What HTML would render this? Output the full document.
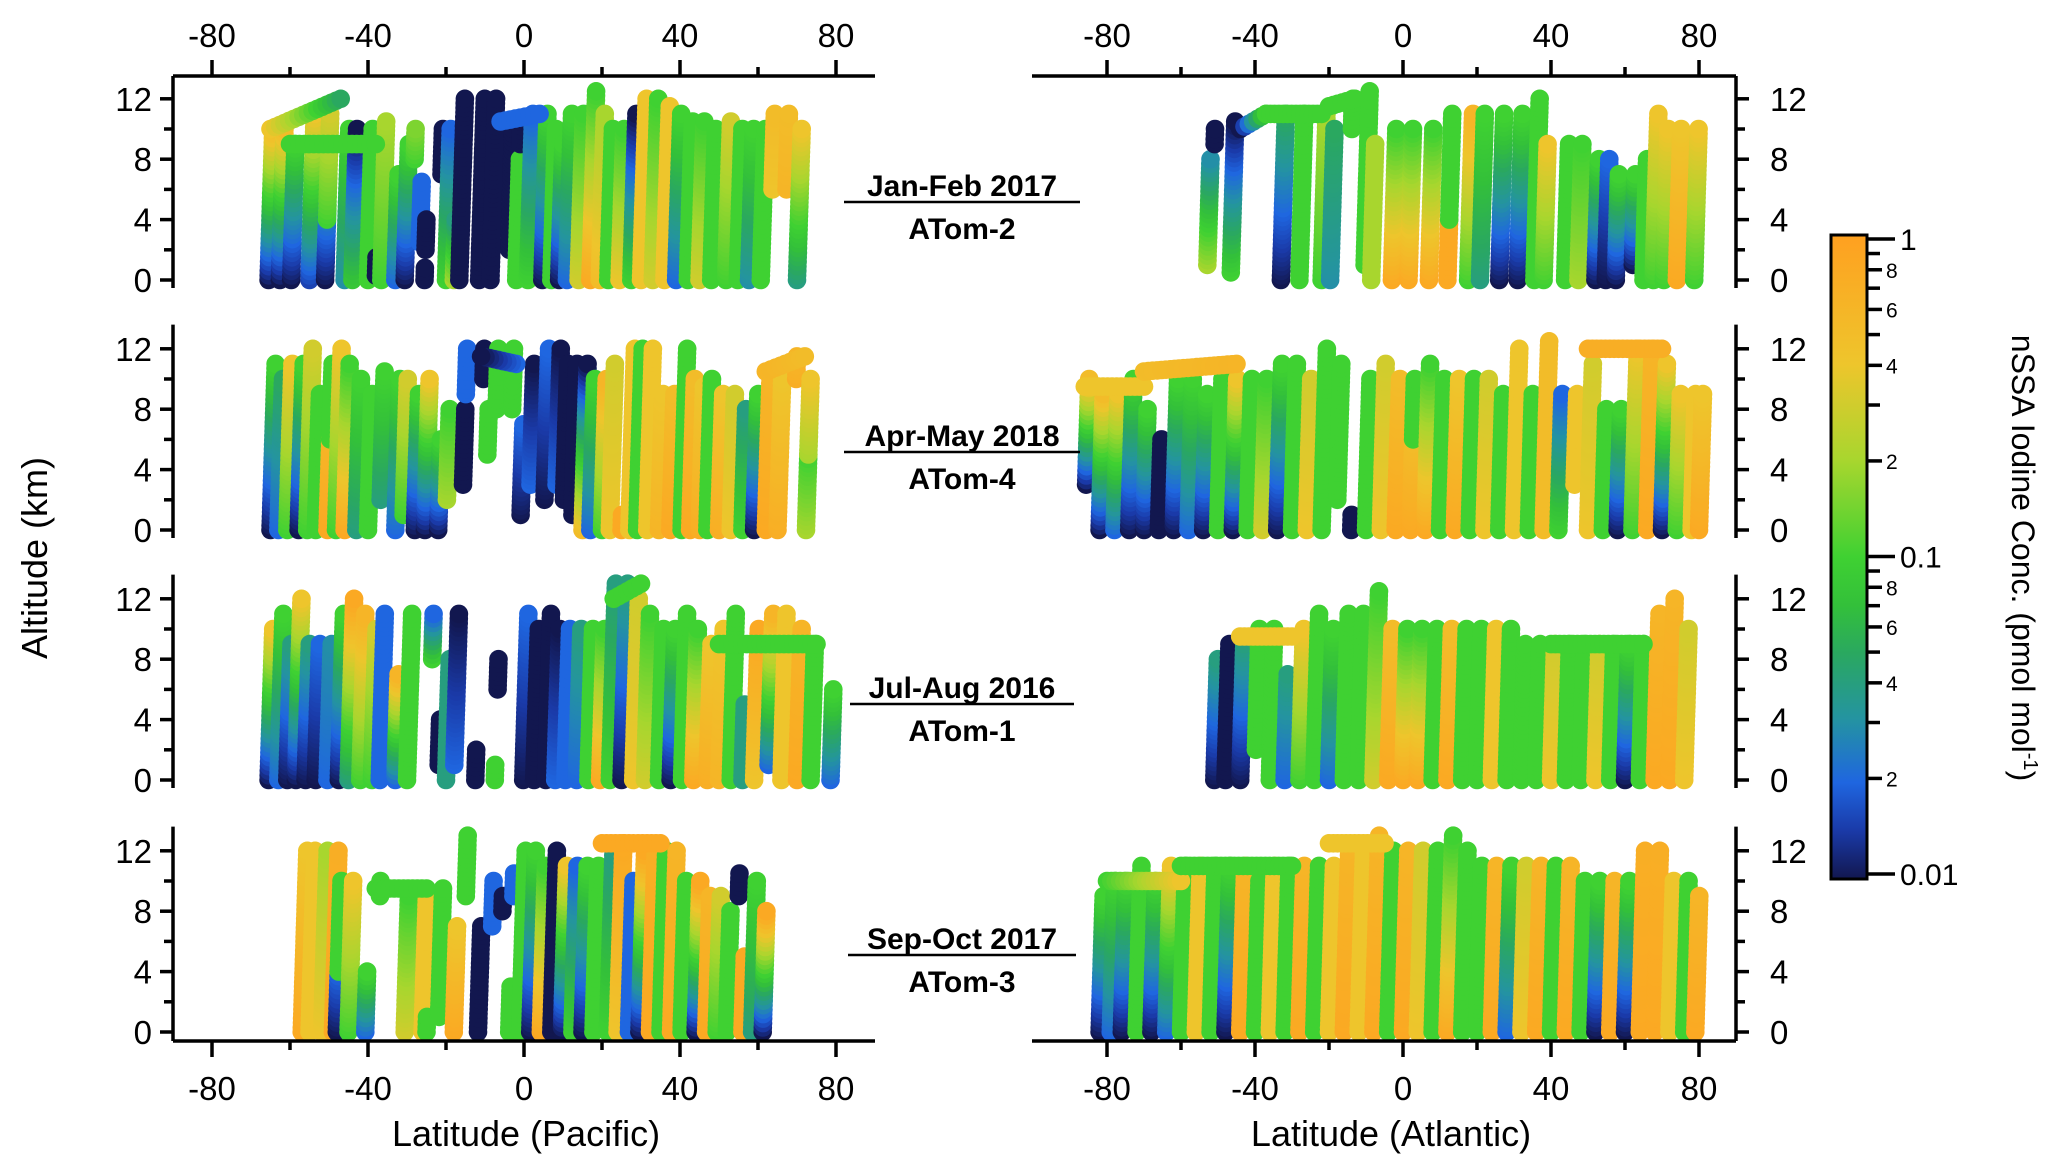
<!DOCTYPE html>
<html><head><meta charset="utf-8">
<style>
html,body{margin:0;padding:0;background:#fff;}
svg{display:block;font-family:"Liberation Sans",Arial,sans-serif;}
</style></head>
<body>
<svg id="chart" width="2067" height="1173" viewBox="0 0 2067 1173" xmlns="http://www.w3.org/2000/svg">
<defs>
<linearGradient id="cbar" x1="0" y1="1" x2="0" y2="0">
<stop offset="0" stop-color="#12174f"/>
<stop offset="0.075" stop-color="#1a3aa8"/>
<stop offset="0.15" stop-color="#1f66e0"/>
<stop offset="0.25" stop-color="#2494a0"/>
<stop offset="0.35" stop-color="#2aa860"/>
<stop offset="0.425" stop-color="#33c03a"/>
<stop offset="0.5" stop-color="#3fd132"/>
<stop offset="0.65" stop-color="#a8d62e"/>
<stop offset="0.8" stop-color="#eec52c"/>
<stop offset="1" stop-color="#ffa020"/>
</linearGradient>
</defs>
<g id="dots"></g>
<g id="axes"></g>

<g font-weight="bold" font-size="30" text-anchor="middle" fill="#000">
<text x="962" y="196">Jan-Feb 2017</text>
<line x1="844" x2="1080" y1="202" y2="202" stroke="#000" stroke-width="2.5"/>
<text x="962" y="239">ATom-2</text>
<text x="962" y="446">Apr-May 2018</text>
<line x1="844" x2="1080" y1="452" y2="452" stroke="#000" stroke-width="2.5"/>
<text x="962" y="489">ATom-4</text>
<text x="962" y="698">Jul-Aug 2016</text>
<line x1="850" x2="1074" y1="704" y2="704" stroke="#000" stroke-width="2.5"/>
<text x="962" y="741">ATom-1</text>
<text x="962" y="949">Sep-Oct 2017</text>
<line x1="848" x2="1076" y1="955" y2="955" stroke="#000" stroke-width="2.5"/>
<text x="962" y="992">ATom-3</text>
</g>

<text x="526" y="1146" font-size="36" text-anchor="middle">Latitude (Pacific)</text>
<text x="1391" y="1146" font-size="36" text-anchor="middle">Latitude (Atlantic)</text>
<text transform="translate(47,558) rotate(-90)" font-size="36" text-anchor="middle">Altitude (km)</text>

<g>
<rect x="1831" y="235" width="36" height="644" fill="url(#cbar)" stroke="#000" stroke-width="3"/>
<g id="cbticks"></g>
<text transform="translate(2012,558) rotate(90)" font-size="32" text-anchor="middle">nSSA Iodine Conc. (pmol mol<tspan dy="-12" font-size="20">-1</tspan><tspan dy="12">)</tspan></text>
</g>
</svg>
<script>
// ---- data: profiles [lat, altBottom, altTop, concBottom, concTop]; legs [lat0, lat1, alt0, alt1, conc0, conc1]
const pacJanFeb = [[-65.5,0,10,0.01,0.5],[-62.6,0,10,0.01,0.5],[-59.7,0,9,0.01,0.1],[-55,0,11,0.015,0.4],[-51,0,5,0.01,0.03],[-51,4,11,0.1,0.3],[-46,0,10,0.03,0.1],[-44,0,10,0.08,0.01],[-40,0,10,0.1,0.1],[-38,0.3,1.5,0.01,0.01],[-36.6,0,10.5,0.1,0.2],[-33,0,7,0.02,0.1],[-30.6,0,9,0.01,0.1],[-29,8,10,0.1,0.15],[-27,2.5,6.5,0.02,0.02],[-25.5,0,0.8,0.01,0.01],[-25.5,2,4,0.01,0.01],[-22,7,10,0.01,0.01],[-20,0,10,0.1,0.02],[-18,0,4,0.2,0.04],[-16.6,0,12,0.01,0.01],[-11.5,0,12,0.01,0.01],[-8.6,0,12,0.01,0.01],[-4,2,10,0.01,0.01],[-2,0,8,0.1,0.1],[-2,9,10.5,0.01,0.01],[1,0,11,0.1,0.02],[4.7,0,11,0.01,0.1],[7,0,10,0.1,0.1],[9,0,9,0.01,0.1],[11,0,11,0.02,0.1],[14,0,11,0.3,0.1],[17,0,12.5,0.8,0.1],[19.4,0,11,0.5,0.2],[21.6,0,10,0.1,0.1],[24.5,0,10,0.4,0.1],[27.5,0,11,0.1,0.01],[30,0,12,0.4,0.4],[33,0,12,0.3,0.1],[36,0,11.5,0.4,0.4],[39,0,11,0.02,0.1],[42,0,10.5,0.1,0.1],[45,0,10.5,0.3,0.1],[48,0,10,0.1,0.1],[51.8,0,10.5,0.1,0.3],[54.8,0,10,0.1,0.1],[57.7,0,10,0.03,0.1],[60.7,0,10,0.1,0.1],[63,6,11,0.4,0.5],[66.6,6,11,0.6,0.5],[70,0,10,0.04,0.4]];
const pacJanFebLegs = [[-65,-47,10,12,0.4,0.05],[-60,-38,9,9,0.1,0.1],[-6,4,10.5,11,0.02,0.02]];
const atlJanFeb = [[-53,1,8,0.2,0.03],[-52,9,10,0.01,0.01],[-46.6,0.5,10.5,0.1,0.01],[-33,0,11,0.01,0.05],[-28,0,11,0.1,0.1],[-22,0,11,0.1,0.2],[-19.7,0,10,0.03,0.05],[-15,10,12,0.1,0.1],[-10.5,1,12.5,0.1,0.1],[-8.6,0,9,0.2,0.2],[-3,0,10,0.8,0.1],[1.5,0,10,0.8,0.1],[7,0,10,0.8,0.1],[12,0,4,0.8,0.8],[12,4,11,0.1,0.1],[17.6,0,11,0.1,0.6],[20.8,0,11,0.04,0.1],[26,0,11,0.01,0.1],[31,0,11,0.01,0.1],[35.5,0,12,0.1,0.1],[38,0,9,0.1,0.4],[43.8,0,9,0.1,0.1],[47.4,0,9,0.2,0.1],[52,0,8,0.01,0.1],[54.8,0,8,0.01,0.02],[57.5,0,7,0.01,0.1],[62,1,7,0.01,0.1],[65,0,8,0.1,0.1],[67.7,0,11,0.1,0.4],[70.5,0,10,0.1,0.4],[74,0,10,0.8,0.4],[78.7,0,10,0.1,0.4]];
const atlJanFebLegs = [[-44,-37,10,11,0.01,0.1],[-37,-22,11,11,0.1,0.1],[-20,-13,11.5,12,0.1,0.1]];
const pacAprMay = [[-65,0,11,0.01,0.1],[-63,0,10,0.02,0.05],[-60.7,0,11,0.1,0.4],[-57.8,0,11,0.01,0.1],[-55.6,0,12,0.1,0.3],[-53.4,0,9,0.1,0.1],[-50.4,0,6,0.8,0.6],[-50.4,6,11,0.1,0.1],[-48.2,0,12,0.1,0.4],[-46,0,11,0.8,0.1],[-43,0,10,0.04,0.1],[-40,0,9,0.1,0.1],[-37,2,10.5,0.04,0.1],[-33,0,10,0.02,0.1],[-31,1,10,0.1,0.3],[-28,0,9,0.01,0.1],[-25.4,0,10,0.01,0.4],[-22,0,6,0.01,0.1],[-20,2,8,0.2,0.1],[-16,3,8,0.01,0.01],[-16,9,12,0.02,0.02],[-11.6,10,12,0.01,0.01],[-10,5,8,0.1,0.1],[-8,8,12,0.1,0.1],[-4,8,12,0.1,0.1],[-1,1,7,0.01,0.02],[1.3,3,11,0.02,0.01],[5,2,12,0.01,0.02],[8,3,12,0.02,0.01],[10,2,11,0.01,0.01],[12.3,1,11,0.01,0.01],[15,0,11,0.5,0.01],[17,0,10,0.02,0.1],[20,0,10,0.1,0.6],[22,0,11,0.4,0.3],[25,0,1,0.8,0.8],[27,0,12,0.4,0.4],[29,0,12,0.1,0.1],[31.6,0,12,0.4,0.4],[34.6,0,9,0.6,0.4],[37.5,0,9,0.8,0.5],[40.4,0,12,0.1,0.1],[42.6,0,10,0.8,0.5],[45,0,9.5,0.7,0.4],[47,0,10,0.1,0.1],[50,0,9,0.7,0.4],[53,0,9,0.4,0.3],[56,0,8,0.1,0.04],[59,0,9,0.01,0.1],[62,0,10,0.8,0.6],[65,0,10,0.7,0.4],[68.6,10,11.5,0.7,0.6],[72.3,0,5,0.2,0.1],[72.3,5,10,0.2,0.4]];
const pacAprMayLegs = [[62,72,10.5,11.5,0.6,0.5],[-2,-11,11,11.5,0.02,0.01]];
const atlAprMay = [[-86,3,10,0.01,0.5],[-82,0,9,0.01,0.5],[-78,0,9,0.02,0.4],[-74,0,10,0.01,0.1],[-70,0,8,0.01,0.1],[-66,0,6,0.01,0.01],[-62,0,10,0.01,0.1],[-58,0,10,0.02,0.1],[-54,0,9,0.01,0.1],[-50,0,10,0.1,0.1],[-46,0,10,0.01,0.4],[-42,0,10,0.1,0.1],[-38,0,10,0.3,0.1],[-34,0,11,0.01,0.1],[-30,0,11,0.1,0.1],[-26,0,10,0.4,0.3],[-22,0,12,0.1,0.1],[-18,2,11,0.1,0.1],[-14,0,1,0.01,0.01],[-10,0,10,0.1,0.1],[-6,0,11,0.4,0.3],[-2,0,10,0.8,0.5],[2,0,6,0.8,0.5],[2,6,10,0.1,0.1],[6,0,11,0.8,0.1],[10,0,10,0.1,0.1],[14,0,10,0.8,0.4],[18,0,10,0.1,0.1],[22,0,10,0.4,0.3],[26,0,9,0.1,0.1],[30,0,12,0.4,0.4],[34,0,9,0.1,0.1],[38,0,12.5,0.5,0.5],[42,0,9,0.1,0.02],[46,3,9,0.4,0.4],[50,0,11,0.4,0.3],[54,0,8,0.1,0.1],[58,0,8,0.01,0.1],[62,0,12,0.1,0.4],[66,0,12,0.8,0.6],[70,0,11,0.01,0.4],[74,0,9,0.1,0.4],[78,0,9,0.4,0.4],[80,0,9,0.8,0.4]];
const atlAprMayLegs = [[-86,-70,9.5,9.5,0.4,0.4],[-70,-45,10.5,11,0.5,0.6],[50,70,12,12,0.7,0.7]];
const pacJulAug = [[-65.5,0,10,0.01,0.4],[-63,0,11,0.02,0.1],[-60.7,0,9,0.01,0.04],[-58.5,0,12,0.01,0.4],[-56,0,9,0.01,0.04],[-53.4,0,9,0.01,0.02],[-50.4,0,9,0.02,0.03],[-47.5,0,11,0.01,0.1],[-45,0,12,0.04,0.8],[-42,0,11,0.1,0.6],[-39,0,10,0.1,0.3],[-37,0,11,0.02,0.02],[-33,0,7,0.02,0.6],[-30,0,11,0.1,0.1],[-24.5,8,11,0.1,0.02],[-22,1,4,0.01,0.01],[-20,0,8,0.04,0.04],[-18,1,11,0.02,0.01],[-12.5,0,2,0.01,0.01],[-7.5,0,1,0.1,0.1],[-7.5,6,8,0.01,0.01],[-0.2,0,11,0.01,0.02],[2.6,0,10,0.01,0.01],[5.6,0,11,0.01,0.01],[8,0,10,0.02,0.01],[10.6,0,10,0.02,0.02],[13.5,0,10,0.02,0.04],[16.5,0,10,0.1,0.1],[19.5,0,10,0.8,0.1],[22,0,13,0.1,0.04],[25,0,13,0.01,0.04],[28,0,12,0.4,0.3],[31,0,11,0.3,0.1],[34.6,0,10,0.1,0.1],[37.6,0,10,0.01,0.1],[40.5,0,11,0.1,0.1],[43.4,0,10,0.8,0.1],[47,0,9,0.7,0.4],[50,0,10,0.6,0.4],[53,0,11,0.1,0.1],[56,0,5,0.04,0.04],[59,0,10,0.4,0.8],[62.6,1,11,0.02,0.6],[66,0,11,0.4,0.4],[70,0,10,0.8,0.6],[73.5,0,9,0.1,0.1],[78.6,0,6,0.02,0.1]];
const pacJulAugLegs = [[23,30,12,13,0.1,0.1],[50,75,9,9,0.1,0.1]];
const atlJulAug = [[-51,0,8,0.01,0.04],[-48,0,9,0.01,0.01],[-44,0,9,0.01,0.04],[-40,2,10,0.1,0.1],[-36,0,10,0.1,0.1],[-32,0,7,0.02,0.04],[-28,0,10,0.1,0.4],[-24,0,11,0.1,0.1],[-20,0,10,0.02,0.1],[-16,0,11,0.1,0.1],[-12,0,11,0.1,0.1],[-8,0,12.5,0.3,0.1],[-4,0,10,0.8,0.5],[0,0,10,0.8,0.1],[4,0,10,0.8,0.1],[8,0,10,0.1,0.1],[12,0,10,0.8,0.5],[16,0,10,0.1,0.1],[20,0,10,0.1,0.1],[24,0,10,0.4,0.4],[28,0,10,0.1,0.1],[32,0,9,0.1,0.1],[36,0,9,0.1,0.1],[40,0,9,0.4,0.3],[44,0,9,0.1,0.1],[48,0,9,0.1,0.1],[52,0,9,0.4,0.3],[56,0,9,0.1,0.1],[60,0,9,0.01,0.1],[64,0,9,0.1,0.1],[68,0,11,0.8,0.6],[72,0,12,0.8,0.6],[76,0,10,0.4,0.3]];
const atlJulAugLegs = [[-44,-30,9.5,9.5,0.4,0.4],[40,65,9,9,0.1,0.1]];
const pacSepOct = [[-57,0,12,0.8,0.4],[-55,0,12,0.4,0.4],[-51.8,0,12,0.4,0.2],[-49,0,12,0.8,0.7],[-48,0,4,0.01,0.02],[-48,4,10,0.1,0.1],[-45,0,10,0.1,0.4],[-40.7,0,4,0.02,0.1],[-38,9,10,0.1,0.1],[-30.6,0,9,0.3,0.1],[-26,0,9,0.4,0.4],[-25,0,1,0.1,0.1],[-21.9,1,9.5,0.1,0.1],[-18,0,7,0.8,0.4],[-16,9,13,0.1,0.1],[-11.8,0,7,0.01,0.01],[-9,7,10,0.02,0.02],[-6.5,8,9,0.01,0.01],[-3.8,0,3,0.1,0.1],[-3.8,9,10.5,0.02,0.02],[-1,0,12,0.1,0.1],[1.6,0,12,0.01,0.1],[4.3,0,11,0.8,0.1],[7,0,12,0.01,0.01],[9.7,0,11,0.01,0.4],[12.4,0,11,0.1,0.02],[15,0,11,0.01,0.1],[17.8,0,11,0.1,0.1],[21.5,0,12,0.1,0.04],[24,0,12.5,0.4,0.8],[26.9,0,10,0.02,0.02],[29.6,0,12,0.01,0.8],[32.3,0,12,0.8,0.7],[35,0,12,0.1,0.1],[37.7,0,12,0.8,0.6],[40.4,0,10,0.1,0.1],[44,0,10,0.01,0.8],[46.7,0,9,0.8,0.6],[49.4,0,9,0.1,0.3],[52,0,8,0.1,0.1],[54,9,10.5,0.01,0.01],[56,0,5,0.8,0.8],[58.5,0,10,0.04,0.1],[61.2,0,8,0.01,0.8]];
const pacSepOctLegs = [[-38,-25,9.5,9.5,0.1,0.1],[20,35,12.5,12.5,0.8,0.8]];
const atlSepOct = [[-82,0,9,0.01,0.1],[-79,0,10,0.02,0.1],[-76,0,10,0.01,0.1],[-72,0,11,0.1,0.1],[-68,0,10,0.01,0.1],[-64,0,11,0.02,0.4],[-60,0,11,0.1,0.1],[-56,0,11,0.4,0.4],[-52,0,11,0.1,0.1],[-48,0,11,0.01,0.1],[-44,0,11,0.8,0.6],[-40,0,10,0.1,0.1],[-36,0,11,0.4,0.4],[-32,0,11,0.1,0.1],[-28,0,11,0.8,0.6],[-24,0,11,0.1,0.1],[-20,0,11,0.4,0.4],[-16,0,12,0.8,0.6],[-12,0,12,0.4,0.4],[-8,0,13,0.8,0.6],[-4,0,12,0.1,0.1],[0,0,12,0.8,0.6],[4,0,12,0.4,0.3],[8,0,12,0.1,0.1],[12,0,13,0.8,0.1],[16,0,12,0.1,0.1],[20,0,11,0.1,0.1],[24,0,11,0.8,0.6],[28,0,11,0.02,0.1],[32,0,11,0.4,0.3],[36,0,11,0.8,0.6],[40,0,11,0.1,0.1],[44,0,11,0.8,0.6],[48,0,10,0.1,0.1],[52,0,10,0.01,0.1],[56,0,10,0.8,0.6],[60,0,10,0.01,0.1],[64,0,12,0.8,0.7],[68,0,12,0.8,0.7],[72,0,10,0.4,0.4],[76,0,10,0.1,0.1],[79,0,9,0.8,0.6]];
const atlSepOctLegs = [[-80,-60,10,10,0.1,0.4],[-60,-30,11,11,0.1,0.1],[-20,-5,12.5,12.5,0.4,0.4]];

const latTicks = [-80,-40,0,40,80];
const latMinor = [-60,-20,20,60];
const altTicks = [0,4,8,12];
const altMinor = [2,6,10];
const cbMajor = [0.01,0.1,1];
const cbMajorLabels = ["0.01","0.1","1"];
const cbMinor = [0.02,0.04,0.06,0.08,0.2,0.4,0.6,0.8];
const cbMinorLabels = ["2","4","6","8","2","4","6","8"];

// ---- layout
const NS="http://www.w3.org/2000/svg";
const panelZero=[280,530,780,1032];
const KM=15.1;
const DOT_R=9.3;
const xL = lat => 212 + (lat+80)*3.9;
const xR = lat => 1107 + (lat+80)*3.7;
const yA = (p,alt) => panelZero[p] - alt*KM;
const cbY = c => 874 - (Math.log10(c)+2)/2*635;

const stops=[[-2,[18,23,79]],[-1.85,[26,58,168]],[-1.7,[31,102,224]],[-1.5,[36,148,160]],[-1.3,[42,168,96]],[-1.15,[51,192,58]],[-1,[63,209,50]],[-0.7,[168,214,46]],[-0.4,[238,197,44]],[0,[255,160,32]]];
function cmap(c){
  const v=Math.max(-2,Math.min(0,Math.log10(c)));
  for(let i=1;i<stops.length;i++){
    if(v<=stops[i][0]){
      const a=stops[i-1],b=stops[i],t=(v-a[0])/(b[0]-a[0]);
      const rgb=a[1].map((q,k)=>Math.round(q+(b[1][k]-q)*t));
      return `rgb(${rgb.join(',')})`;
    }
  }
  return 'rgb(255,160,32)';
}
function mk(tag,attrs,parent){
  const e=document.createElementNS(NS,tag);
  for(const k in attrs)e.setAttribute(k,attrs[k]);
  parent.appendChild(e);return e;
}
const dots=document.getElementById('dots');
const lc=(a,b,t)=>Math.pow(10,Math.log10(a)+(Math.log10(b)-Math.log10(a))*t);
function drawPanel(p,xs,profiles,legs,name){
  const g=mk('g',{},dots);
  
  
  profiles.forEach(pr=>{
    const [lat,a0,a1,c0,c1]=pr;
    const n=Math.max(1,Math.round((a1-a0)/0.3));
    for(let i=0;i<=n;i++){
      const t=i/n, alt=a0+(a1-a0)*t;
      const c=mk('circle',{cx:xs(lat+alt*0.12).toFixed(1),cy:yA(p,alt).toFixed(1),r:DOT_R,fill:cmap(lc(c0,c1,t))},g);
      
      
    }
  });
  legs.forEach(lg=>{
    const [l0,l1,a0,a1,c0,c1]=lg;
    const n=Math.max(1,Math.round(Math.abs(l1-l0)/1.2));
    for(let i=0;i<=n;i++){
      const t=i/n;
      const c=mk('circle',{cx:xs(l0+(l1-l0)*t).toFixed(1),cy:yA(p,a0+(a1-a0)*t).toFixed(1),r:DOT_R,fill:cmap(lc(c0,c1,t))},g);
      
      
    }
  });
}
drawPanel(0,xL,pacJanFeb,pacJanFebLegs,'pacific-jan-feb-2017');
drawPanel(0,xR,atlJanFeb,atlJanFebLegs,'atlantic-jan-feb-2017');
drawPanel(1,xL,pacAprMay,pacAprMayLegs,'pacific-apr-may-2018');
drawPanel(1,xR,atlAprMay,atlAprMayLegs,'atlantic-apr-may-2018');
drawPanel(2,xL,pacJulAug,pacJulAugLegs,'pacific-jul-aug-2016');
drawPanel(2,xR,atlJulAug,atlJulAugLegs,'atlantic-jul-aug-2016');
drawPanel(3,xL,pacSepOct,pacSepOctLegs,'pacific-sep-oct-2017');
drawPanel(3,xR,atlSepOct,atlSepOctLegs,'atlantic-sep-oct-2017');

// ---- axes
const ax=document.getElementById('axes');
const S={stroke:'#000','stroke-width':3.5,fill:'none'};
function line(x1,y1,x2,y2,parent,name){
  const l=mk('line',Object.assign({x1,y1,x2,y2},S),parent);
  
  
  return l;
}
function text(x,y,s,size,anchor,parent,name){
  const t=mk('text',{x,y,'font-size':size,'text-anchor':anchor},parent);
  t.textContent=s;
  
  
  return t;
}
[[xL,173,875],[xR,1032,1736]].forEach(([xs,a,b])=>{
  line(a,76,b,76,ax,'top-x-axis');
  latTicks.forEach(v=>{line(xs(v),76,xs(v),60,ax,'top-x-tick');text(xs(v),47,String(v),33,'middle',ax,'top-x-tick-label');});
  latMinor.forEach(v=>line(xs(v),76,xs(v),67,ax,'top-x-minor-tick'));
  line(a,1041,b,1041,ax,'bottom-x-axis');
  latTicks.forEach(v=>{line(xs(v),1041,xs(v),1057,ax,'bottom-x-tick');text(xs(v),1100,String(v),33,'middle',ax,'bottom-x-tick-label');});
  latMinor.forEach(v=>line(xs(v),1041,xs(v),1050,ax,'bottom-x-minor-tick'));
});
for(let p=0;p<4;p++){
  const top = p===0?76:yA(p,13.6);
  const bot = p===3?1041:panelZero[p]+8;
  line(173,top,173,bot,ax,'left-y-axis');
  line(1736,top,1736,bot,ax,'right-y-axis');
  altTicks.forEach(v=>{
    const y=yA(p,v);
    line(173,y,160,y,ax,'left-y-tick');
    line(1736,y,1749,y,ax,'right-y-tick');
    text(152,y+12,String(v),33,'end',ax,'left-y-tick-label');
    text(1770,y+12,String(v),33,'start',ax,'right-y-tick-label');
  });
  altMinor.forEach(v=>{
    const y=yA(p,v);
    line(173,y,164,y,ax,'left-y-minor-tick');
    line(1736,y,1745,y,ax,'right-y-minor-tick');
  });
}
const cbt=document.getElementById('cbticks');
cbMajor.forEach((v,i)=>{
  const y=cbY(v);
  line(1867,y,1895,y,cbt,'colorbar-major-tick');
  text(1900,y+11,cbMajorLabels[i],30,'start',cbt,'colorbar-major-label');
});
cbMinor.forEach((v,i)=>{
  const y=cbY(v);
  line(1867,y,1882,y,cbt,'colorbar-minor-tick');
  text(1886,y+8,cbMinorLabels[i],21,'start',cbt,'colorbar-minor-label');
});
[0.03,0.05,0.07,0.09,0.3,0.5,0.7,0.9].forEach(v=>{const y=cbY(v);line(1867,y,1880,y,cbt,'colorbar-minor-tick');});
</script>
</body></html>
